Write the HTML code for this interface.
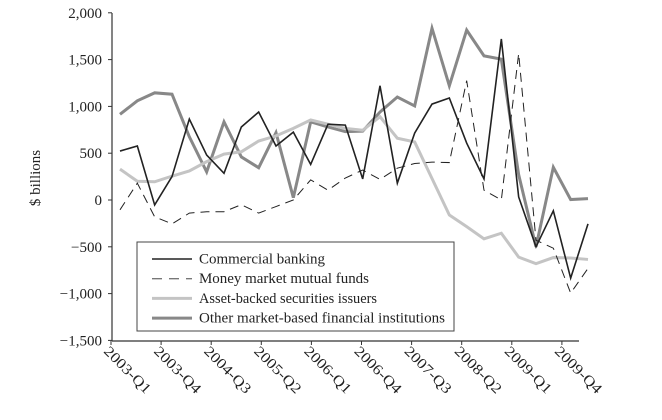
<!DOCTYPE html>
<html><head><meta charset="utf-8"><style>
body{margin:0;background:#fff}
svg text{font-family:"Liberation Serif",serif;fill:#222}
</style></head><body>
<svg id="chart" width="662" height="415" xmlns="http://www.w3.org/2000/svg"></svg>
<script>
const quarters=[];for(let y=2003;y<=2009;y++)for(let q=1;q<=4;q++)quarters.push(y+'-Q'+q);
const tickLabels=['2003-Q1','2003-Q4','2004-Q3','2005-Q2','2006-Q1','2006-Q4','2007-Q3','2008-Q2','2009-Q1','2009-Q4'];
const yTicks=[2000,1500,1000,500,0,-500,-1000,-1500];
const commercial=[523,577,-53,250,865,480,285,780,940,577,725,380,810,800,225,1220,180,715,1025,1090,608,225,1720,32,-500,-115,-835,-255];
const mmmf=[-105,180,-180,-255,-140,-125,-125,-50,-140,-70,0,215,105,235,320,220,340,390,405,400,1275,105,0,1565,-430,-515,-995,-730];
const abs=[330,200,195,255,310,410,490,515,630,685,765,855,810,765,745,890,660,620,230,-160,-285,-415,-355,-610,-680,-615,-620,-635];
const other=[915,1060,1145,1130,675,300,835,460,345,720,25,835,780,730,735,940,1100,1005,1835,1220,1815,1540,1505,270,-500,350,5,15];
const NS='http://www.w3.org/2000/svg';const svg=document.getElementById('chart');
function mk(t,a,p){const e=document.createElementNS(NS,t);for(const k in a)e.setAttribute(k,a[k]);(p||svg).appendChild(e);return e;}
const xs=i=>120+i*(468/27);
const ys=v=>200-v*(46.8/500);
const ya=mk('line',{x1:112,y1:13,x2:112,y2:341,stroke:'#333','stroke-width':1.2});

const xa=mk('line',{x1:112,y1:341,x2:579,y2:341,stroke:'#333','stroke-width':1.2});

yTicks.forEach(v=>{
 mk('line',{x1:108,y1:ys(v),x2:112,y2:ys(v),stroke:'#333'});
 const t=mk('text',{x:102,y:ys(v)+5,'text-anchor':'end','font-size':15});
 t.textContent=v.toLocaleString('en-US').replace('-','\u2212');
 
});
tickLabels.forEach((l,k)=>{
 const x=111+k*50.1;
 mk('line',{x1:x,y1:341,x2:x,y2:345,stroke:'#333'});
 const t=mk('text',{x:x-8,y:352,'font-size':14.5,textLength:60,lengthAdjust:'spacingAndGlyphs',transform:`rotate(45 ${x-8} 352)`});
 t.textContent=l;
 
});
const yl=mk('text',{x:40,y:178,'text-anchor':'middle','font-size':15,transform:'rotate(-90 40 178)'});
yl.textContent='$ billions';
const series=[
 [other,'#888',3,null,'other-line'],
 [abs,'#c4c4c4',3,null,'abs-line'],
 [mmmf,'#222',1,'9,6','mmmf-line'],
 [commercial,'#222',1.6,null,'commercial-line']];
series.forEach(s=>{
 const p=mk('polyline',{points:s[0].map((v,i)=>xs(i)+','+ys(v)).join(' '),fill:'none',stroke:s[1],'stroke-width':s[2],'stroke-linejoin':'miter'});
 if(s[3])p.setAttribute('stroke-dasharray',s[3]);
 
});
const lg=mk('g',{});
mk('rect',{x:137,y:242,width:317,height:89,fill:'#fff',stroke:'#444','stroke-width':1},lg);
const entries=[['Commercial banking','#222',1.6,null,126],['Money market mutual funds','#777',1.4,'10,7',170],['Asset-backed securities issuers','#c4c4c4',3,null,178],['Other market-based financial institutions','#888',3,null,246]];
entries.forEach((e,i)=>{
 const y=259+i*19.7;
 const g=mk('g',{},lg);
 const l=mk('line',{x1:152,y1:y,x2:192,y2:y,stroke:e[1],'stroke-width':e[2]},g);
 if(e[3])l.setAttribute('stroke-dasharray',e[3]);
 const t=mk('text',{x:199,y:y+4.5,'font-size':14.5,textLength:e[4],lengthAdjust:'spacingAndGlyphs'},g);t.textContent=e[0];
});
</script>
</body></html>
